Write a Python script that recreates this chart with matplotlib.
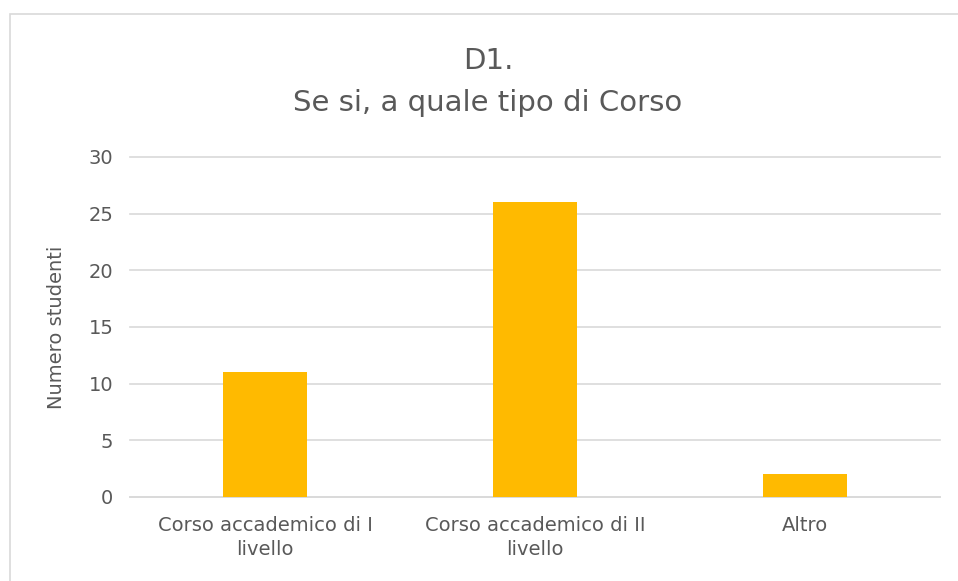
import matplotlib.pyplot as plt
from matplotlib.patches import Rectangle

categorie = ["Corso accademico di I\nlivello", "Corso accademico di II\nlivello", "Altro"]
studenti = [11, 26, 2]
yticks = [0, 5, 10, 15, 20, 25, 30]

grigio = "#595959"

fig = plt.figure(figsize=(9.58, 5.81), dpi=100)
# cornice del grafico
fig.patches.append(Rectangle((10/958, -0.1), 1.0, 1 - 14/581 + 0.1, transform=fig.transFigure,
                             fill=False, edgecolor="#D9D9D9", linewidth=1.2))

ax = fig.add_axes([130/958, 1 - 497/581, 810/958, 340/581])
x = list(range(len(categorie)))
ax.bar(x, studenti, width=0.31, color="#FFBA00", zorder=3)
ax.set_xlim(-0.5, len(categorie) - 0.5)
ax.set_ylim(0, 30)
ax.set_yticks(yticks)
ax.set_xticks(x)
ax.set_xticklabels(categorie, fontsize=14, color=grigio, linespacing=1.3)
ax.tick_params(axis="y", labelsize=14, colors=grigio, length=0, pad=12)
ax.tick_params(axis="x", length=0, pad=14)
ax.grid(axis="y", color="#D9D9D9", linewidth=1.2, zorder=0)
for gl in ax.get_ygridlines():
    gl.set_clip_on(False)
for s in ["top", "right", "left"]:
    ax.spines[s].set_visible(False)
ax.spines["bottom"].set_color("#D9D9D9")
ax.spines["bottom"].set_linewidth(1.2)
ax.set_ylabel("Numero studenti", fontsize=14, color=grigio, labelpad=16)

fig.text(488/958, 1 - 82/581, "D1.\nSe si, a quale tipo di Corso", ha="center", va="center",
         fontsize=21, color=grigio, linespacing=1.6)

fig.savefig("out.png", dpi=100)
